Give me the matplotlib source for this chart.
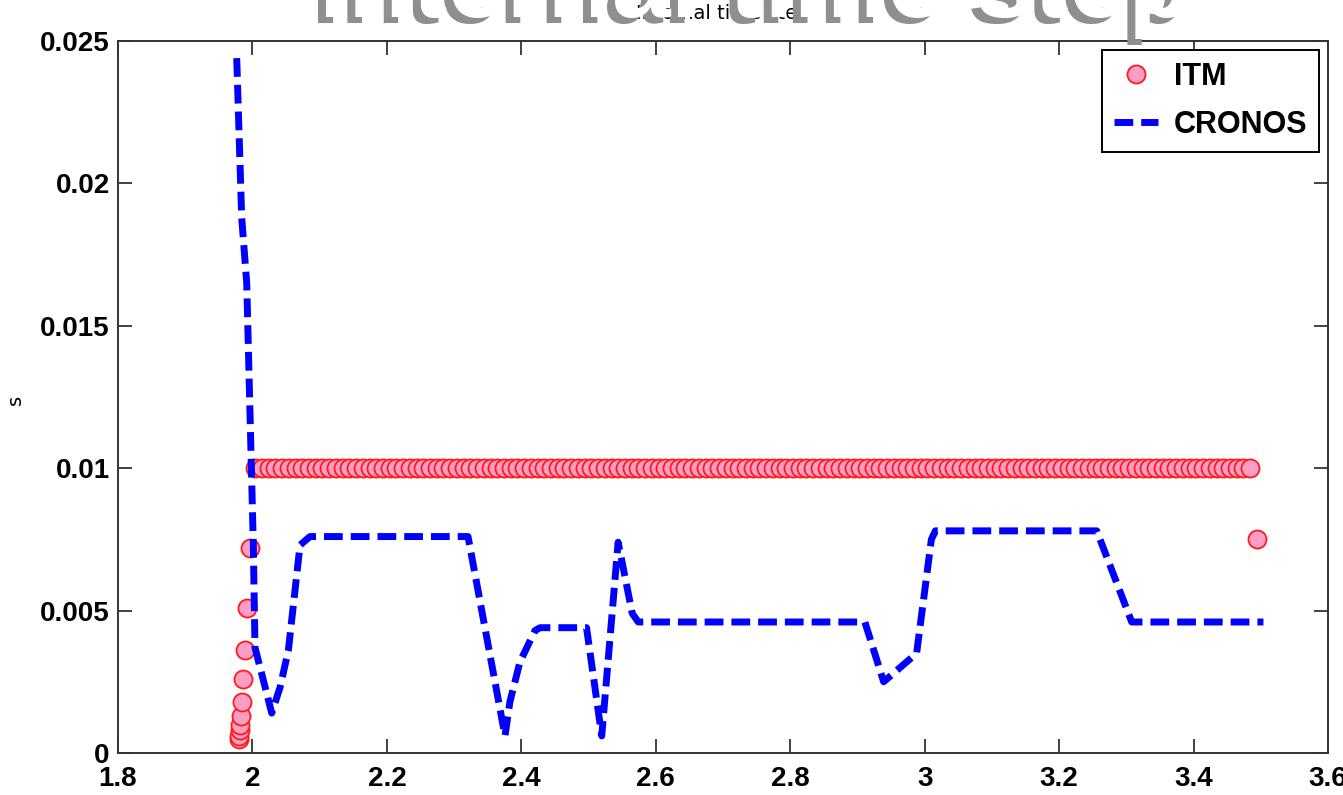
import numpy as np
import matplotlib
matplotlib.use('Agg')
import matplotlib.pyplot as plt
from matplotlib import transforms

# ITM internal time steps (s); each step is drawn at the time where it starts
itm_t0 = 1.9797
itm_steps = [0.0005, 0.0006, 0.0008, 0.0010, 0.0013, 0.0018, 0.0026,
             0.0036, 0.0051, 0.0072] + [0.01] * 149 + [0.0075]

# CRONOS internal time step
cronos_t = [1.9766, 1.984, 1.9915, 1.9964, 2.0013, 2.0038, 2.0287, 2.041,
            2.0534, 2.0708, 2.0856, 2.3207, 2.3757, 2.383, 2.398, 2.4204,
            2.428, 2.497, 2.5196, 2.544, 2.565, 2.574, 2.911, 2.939, 2.988,
            3.010, 3.016, 3.256, 3.308, 3.504]
cronos_dt = [0.0244, 0.0188, 0.0165, 0.0119, 0.0073, 0.0037, 0.0014, 0.0023,
             0.0036, 0.0073, 0.0076, 0.0076, 0.0006, 0.0018, 0.0032, 0.0043,
             0.0044, 0.0044, 0.0006, 0.0074, 0.0049, 0.0046, 0.0046, 0.0025,
             0.0035, 0.0075, 0.0078, 0.0078, 0.0046, 0.0046]

x_ticks = [1.8, 2, 2.2, 2.4, 2.6, 2.8, 3, 3.2, 3.4, 3.6]
y_ticks = [0, 0.005, 0.01, 0.015, 0.02, 0.025]
x_tick_labels = ['1.8', '2', '2.2', '2.4', '2.6', '2.8', '3', '3.2', '3.4', '3.6']
y_tick_labels = ['0', '0.005', '0.01', '0.015', '0.02', '0.025']

itm_t = itm_t0 + np.concatenate([[0.0], np.cumsum(itm_steps[:-1])])

fig = plt.figure(figsize=(13.43, 7.95), dpi=100)
ax = fig.add_axes([118 / 1343, 42 / 795, 1210 / 1343, 712 / 795])

ax.plot(itm_t, itm_steps, linestyle='none', marker='o', markersize=13,
        markerfacecolor='#ff9ec4', markeredgecolor='#ff1a1a',
        markeredgewidth=1.3, label='ITM')
ax.plot(cronos_t, cronos_dt, color='#0000ff', linewidth=5,
        dashes=(2.7, 1.15), label='CRONOS')

ax.set_xlim(1.8, 3.6)
ax.set_ylim(0, 0.025)
ax.set_xticks(x_ticks)
ax.set_xticklabels(x_tick_labels)
ax.set_yticks(y_ticks)
ax.set_yticklabels(y_tick_labels)
for lab in ax.get_xticklabels() + ax.get_yticklabels():
    lab.set_fontfamily('Liberation Sans')
    lab.set_fontweight('bold')
    lab.set_fontsize(20)
ax.tick_params(direction='in', length=10, width=1.3, top=True, right=True,
               color='#333333')
ax.tick_params(axis='x', pad=9)
ax.tick_params(axis='y', pad=6)
for sp in ax.spines.values():
    sp.set_linewidth(1.4)
    sp.set_color('#333333')

leg = ax.legend(loc='upper right', prop={'family': 'Liberation Sans', 'weight': 'bold', 'size': 22},
                frameon=True, fancybox=False, edgecolor='black', framealpha=1,
                handlelength=1.45, handletextpad=0.5, borderpad=0.4,
                labelspacing=0.6, borderaxespad=0.28)
leg.get_frame().set_linewidth(1.4)

# small title and y label
ax.set_title('Internal time step', fontsize=14, pad=16)
fig.text(15 / 1343, 1 - 400 / 795, 's', rotation=90, fontsize=14,
         ha='center', va='center')

# big title running off the top edge: grey shadow, white letters on top
big_x = 756 / 1343
big_y = 1 - 17 / 795
shadow = transforms.offset_copy(fig.transFigure, fig=fig, x=-8, y=-6, units='dots')
fig.text(big_x, big_y, 'Internal time step', fontsize=76, fontweight='bold',
         family='Liberation Sans', color='#8f8f8f', ha='center', va='baseline',
         transform=shadow, zorder=9)
fig.text(big_x, big_y, 'Internal time step', fontsize=76, fontweight='bold',
         family='Liberation Sans', color='white', ha='center', va='baseline',
         zorder=10)

fig.savefig('out.png', dpi=100)
